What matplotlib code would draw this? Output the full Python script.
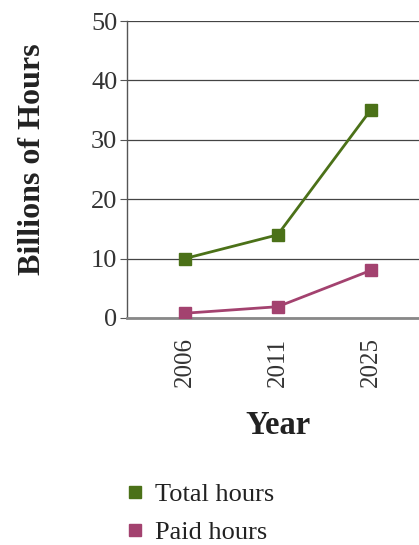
import matplotlib
matplotlib.use("Agg")
import matplotlib.pyplot as plt
from matplotlib.lines import Line2D

years = ["2006", "2011", "2025"]
total_hours = [10, 14, 35]
paid_hours = [0.8, 1.9, 8]
series_names = ["Total hours", "Paid hours"]
colors = ["#4b7118", "#a3426f"]

plt.rcParams['font.family'] = ['Liberation Serif', 'DejaVu Serif']

fig = plt.figure(figsize=(4.19, 5.45), dpi=100)
# axes spans from x=127 px to past the right edge
ax = fig.add_axes([127 / 419, 1 - 318 / 545, 292 / 419, 297 / 545])

x = range(len(years))
ax.plot(x, total_hours, color=colors[0], lw=2, marker='s', ms=8.5, zorder=3)
ax.plot(x, paid_hours, color=colors[1], lw=2, marker='s', ms=8.5, zorder=3)

ax.set_ylim(0, 50)
ax.set_xlim(-0.62, 2.52)
ax.set_yticks(range(0, 51, 10))
ax.set_xticks(list(x))
ax.set_xticklabels(years, rotation=90, fontsize=18, color='#333333')
ax.tick_params(axis='y', labelsize=19, labelcolor='#333333', length=5,
               color='#555555', pad=2)
ax.tick_params(axis='x', length=0, pad=14)
ax.yaxis.grid(True, color='#444444', lw=0.9)
ax.set_axisbelow(True)

for side in ['top', 'right']:
    ax.spines[side].set_visible(False)
ax.spines['left'].set_color('#555555')
ax.spines['left'].set_linewidth(1)
ax.spines['bottom'].set_color('#888888')
ax.spines['bottom'].set_linewidth(2)

ax.set_ylabel("Billions of Hours", fontsize=23, fontweight='bold', color='#222222')
ax.yaxis.set_label_coords(-0.273, 0.535)
ax.set_xlabel("Year", fontsize=23.5, fontweight='bold', color='#222222')
ax.xaxis.set_label_coords(0.518, -0.31)

handles = [Line2D([], [], color=c, marker='s', ls='none', ms=9) for c in colors]
fig.legend(handles, series_names, loc='upper left', bbox_to_anchor=(114 / 419, 1 - 477 / 545),
           frameon=False, fontsize=19, handletextpad=0.15, labelspacing=0.55,
           handlelength=1.2, labelcolor='#222222', borderaxespad=0, borderpad=0.2)

fig.savefig("out.png", dpi=100)
